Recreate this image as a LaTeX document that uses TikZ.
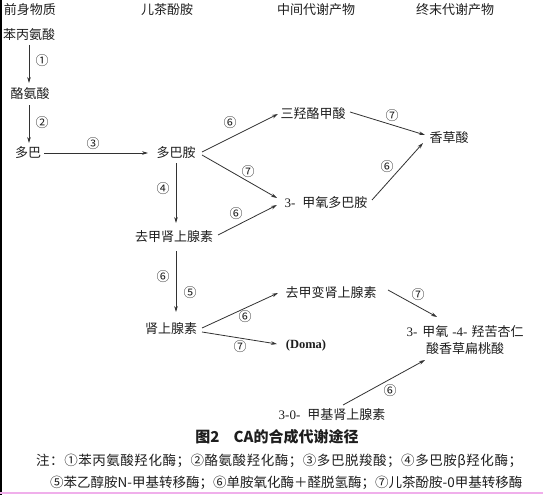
\documentclass[tikz,border=0pt]{standalone}
\usepackage{fontspec}
\setmainfont{Liberation Serif}
\newfontfamily\cjk{Noto Sans CJK SC}
\newfontfamily\cjkls[LetterSpace=4]{Noto Sans CJK SC}
\usetikzlibrary{arrows.meta}
\definecolor{pinkline}{RGB}{240,175,235}
\definecolor{ink}{RGB}{30,30,30}
\definecolor{linec}{RGB}{50,50,50}
\begin{document}
\begin{tikzpicture}[x=1pt,y=-1pt,
  lbl/.style={font=\cjk\fontsize{13}{15}\selectfont, inner sep=0pt, text=ink},
  num/.style={font=\cjk\fontsize{13}{13}\selectfont, inner sep=0pt, text=ink},
  arr/.style={draw=linec, line width=0.8pt, -{Stealth[length=6pt,width=3.6pt]}},
]
\useasboundingbox (0,0) rectangle (543,495);
\fill[white] (0,0) rectangle (543,495);
\draw[line width=1.5pt, black] (0.75,0) -- (0.75,495);
\draw[line width=2pt, pinkline] (0,492.5) -- (543,492.5);

% headers
\node[lbl] (h1) at (30,10) {前身物质};
\node[lbl] (h2) at (167,10) {儿茶酚胺};
\node[lbl] (h3) at (316,10) {中间代谢产物};
\node[lbl] (h4) at (455,10) {终末代谢产物};

% compounds
\node[lbl] (phe) at (29,35) {苯丙氨酸};
\node[lbl] (tyr) at (30,94) {酪氨酸};
\node[lbl] (dopa) at (28,153) {多巴};
\node[lbl] (da) at (176,153) {多巴胺};
\node[lbl] (thc) at (313,114) {三羟酪甲酸};
\node[lbl] (va) at (449,138) {香草酸};
\node[lbl] (mt) at (326,203) {{\rmfamily 3-}\hspace{7pt}甲氧多巴胺};
\node[lbl] (ne) at (174,237) {去甲肾上腺素};
\node[lbl] (epi) at (171,329) {肾上腺素};
\node[lbl] (nme) at (331,293) {去甲变肾上腺素};
\node[lbl, font=\rmfamily\bfseries\fontsize{12.5}{15}\selectfont] (doma) at (306,345) {(Doma)};
\node[lbl, align=center] (vma) at (465,340) {{\rmfamily 3-}\hspace{5pt}甲氧\hspace{4pt}{\rmfamily -4-}\hspace{4pt}羟苦杏仁\\[2pt]酸香草扁桃酸};
\node[lbl] (omet) at (332,415) {{\rmfamily 3-0-}\hspace{7pt}甲基肾上腺素};

% connectors
\draw[arr] ([shift={(0,10)}]phe.center) -- ([shift={(-1,-11)}]tyr.center);
\draw[arr] ([shift={(-1,11)}]tyr.center) -- ([shift={(1,-10)}]dopa.center);
\draw[arr] ([shift={(16,0)}]dopa.center) -- ([shift={(-28,0)}]da.center);
\draw[arr] ([shift={(26,-1)}]da.center) -- ([shift={(-35,0)}]thc.center);
\draw[arr] ([shift={(37,-2)}]thc.center) -- ([shift={(-24,-3)}]va.center);
\draw[arr] ([shift={(26,2)}]da.center) -- ([shift={(-49,-5)}]mt.center);
\draw[arr] ([shift={(46,-3)}]mt.center) -- ([shift={(-26,5)}]va.center);
\draw[arr] ([shift={(0,10)}]da.center) -- ([shift={(2,-14)}]ne.center);
\draw[arr] ([shift={(44,-2)}]ne.center) -- ([shift={(-49,2)}]mt.center);
\draw[arr] ([shift={(2,14)}]ne.center) -- ([shift={(5,-17)}]epi.center);
\draw[arr] ([shift={(31,-1)}]epi.center) -- ([shift={(-53,0)}]nme.center);
\draw[arr] ([shift={(31,3)}]epi.center) -- ([shift={(-29,-1)}]doma.center);
\draw[arr] ([shift={(57,-3)}]nme.center) -- ([shift={(-28,-23)}]vma.center);
\draw[arr] ([shift={(11,-10)}]omet.center) -- ([shift={(-40,20)}]vma.center);

% enzyme numbers
\node[num] (n1) at (42,61) {①};
\node[num] (n2) at (42,123) {②};
\node[num] (n3) at (93,144) {③};
\node[num] (n4) at (230,123) {⑥};
\node[num] (n5) at (392,116) {⑦};
\node[num] (n6) at (248,172) {⑦};
\node[num] (n7) at (387,167) {⑥};
\node[num] (n8) at (163,189) {④};
\node[num] (n9) at (236,214) {⑥};
\node[num] (n10) at (163,277) {⑥};
\node[num] (n11) at (190,293) {⑤};
\node[num] (n12) at (245,317) {⑥};
\node[num] (n13) at (240,347) {⑦};
\node[num] (n14) at (418,295) {⑦};
\node[num] (n15) at (390,391) {⑥};

% caption and notes
\node[lbl, font=\cjk\bfseries\fontsize{15}{17}\selectfont] (cap) at (277,437) {图2\hspace{14pt}CA的合成代谢途径};
\node[lbl, anchor=west, font=\cjkls\fontsize{13.5}{15}\selectfont] (note1) at (36,461) {注：①苯丙氨酸羟化酶；②酪氨酸羟化酶；③多巴脱羧酸；④多巴胺β羟化酶；};
\node[lbl, anchor=west, font=\cjk\fontsize{13.5}{15}\selectfont] (note2) at (50,483) {⑤苯乙醇胺N-甲基转移酶；⑥单胺氧化酶＋醛脱氢酶；⑦儿茶酚胺-0甲基转移酶};
\end{tikzpicture}
\end{document}
